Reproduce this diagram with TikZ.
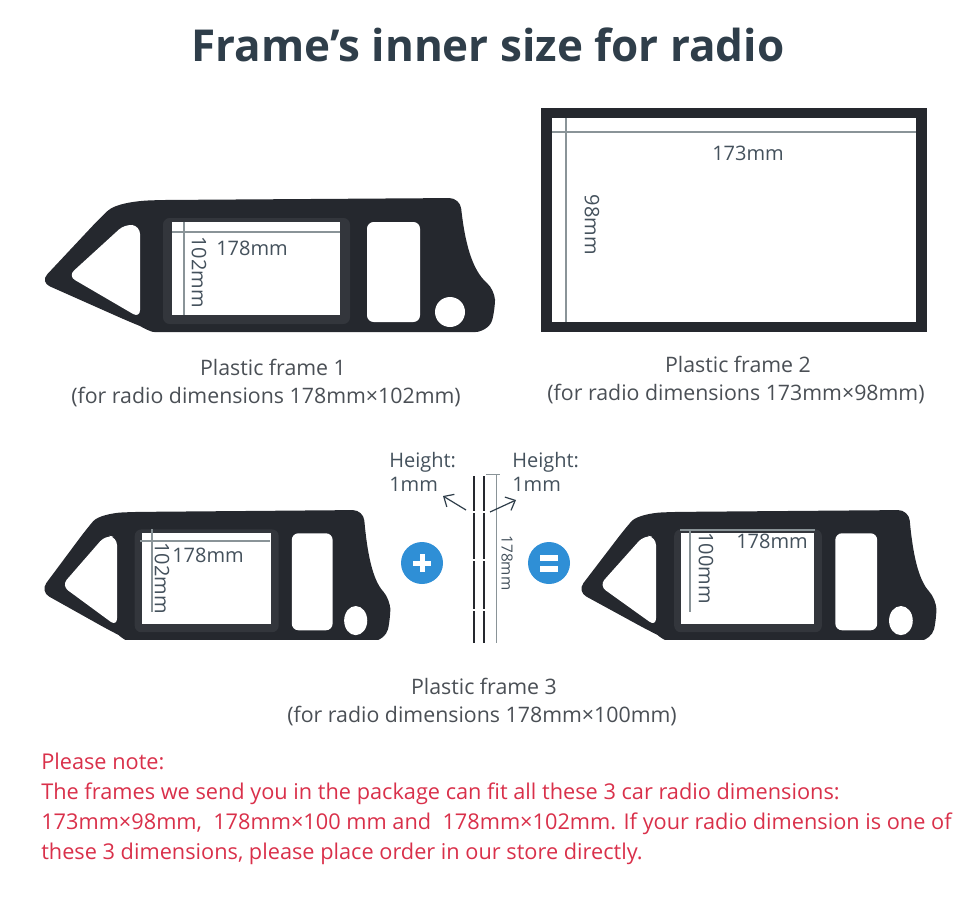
\documentclass[tikz,border=0pt]{standalone}
\usepackage{fontspec}
\setmainfont{Open Sans}
\usetikzlibrary{arrows.meta}
\definecolor{fr}{HTML}{25282E}
\definecolor{rec}{HTML}{33363C}
\definecolor{ttl}{HTML}{2F3E4A}
\definecolor{cap}{HTML}{4A4F55}
\definecolor{red1}{HTML}{D9304A}
\definecolor{blu}{HTML}{2F8FD6}
\definecolor{gl}{HTML}{8A9498}
\newcommand{\carframe}{%
 \fill[fr,rounded corners=8] (0,84) -- (60,20) .. controls (75,6) and (95,3) .. (120,2) -- (420,0) .. controls (425,45) and (432,72) .. (455,92) -- (455,112) .. controls (450,130) and (440,134) .. (425,134) -- (125,134) .. controls (110,134) and (100,128) .. (90,124) -- cycle;
 \fill[white,rounded corners=6] (28,78) -- (85,26) -- (100,28) -- (100,120) -- cycle;
 \fill[rec,rounded corners=5] (123,20) rectangle (310,126);
 \fill[white] (132,24) rectangle (300,117);
 \fill[white,rounded corners=5] (327,24) rectangle (380,124);
 \fill[white] (410,114) circle (15);}
\tikzset{cp/.style={text=cap,font=\fontsize{16}{18}\selectfont},
 lb/.style={text=ttl!90,font=\fontsize{15}{18}\selectfont,inner sep=0},
 gline/.style={gl,line width=0.8pt}}
\begin{document}
\begin{tikzpicture}[x=0.75pt,y=-0.75pt]
\useasboundingbox (0,0) rectangle (980,921);
\node (title) at (488,45) {\fontsize{33}{38}\selectfont\bfseries\color{ttl}Frame's inner size for radio};
% frame 1
\begin{scope}[shift={(40,198)}]\carframe\end{scope}
\draw[gline] (184,222) -- (184,315); \draw[gline] (172,232) -- (340,232);
\node[lb,anchor=west] (a1) at (216,248) {178mm};
\node[lb,rotate=-90] (a2) at (199,272) {102mm};
\node[cp] (c1) at (273,367) {Plastic frame 1};
\node[cp] (c1b) at (266,397) {(for radio dimensions 178mm×102mm)};
% frame 2
\fill[fr] (541,108) rectangle (927,332);
\fill[white] (552,118) rectangle (916,322);
\draw[gline] (566,118) -- (566,322); \draw[gline] (552,132) -- (916,132);
\node[lb] (b1) at (748,153) {173mm};
\node[lb,rotate=-90] (b2) at (592,225) {98mm};
\node[cp] (c2) at (738,364) {Plastic frame 2};
\node[cp] (c2b) at (736,394) {(for radio dimensions 173mm×98mm)};
% frame 3 left
\begin{scope}[shift={(40,510)},xscale=0.77,yscale=0.97]\carframe\end{scope}
\draw[gline] (152,529) -- (152,612); \draw[gline] (140,541) -- (270,541);
\node[lb,anchor=west] (d1) at (172,555) {178mm};
\node[lb,rotate=-90] (d2) at (162,578) {102mm};
% plus
\fill[blu] (422,563) circle (21);
\fill[white] (413,560.5) rectangle (431,565.5);
\fill[white] (419.5,554) rectangle (424.5,572);
% strips
\draw[fr,line width=2.2pt] (474,476) -- (474,643);
\draw[fr,line width=2.2pt] (484,476) -- (484,643);
\foreach \y in {512,560,610} {\draw[white,line width=1.5pt] (470,\y) -- (488,\y);}
\draw[gl,line width=0.6pt] (496,474) -- (496,643); \draw[gl,line width=0.6pt] (486,474) -- (500,474);
\node[lb,font=\fontsize{11.5}{13}\selectfont,rotate=-90] (s1) at (507,563) {178mm};
\node[lb,anchor=north west,align=left] (h1) at (389,452) {Height:\\1mm};
\node[lb,anchor=north west,align=left] (h2) at (512,452) {Height:\\1mm};
\coordinate (p1) at (466,510); \coordinate (p2) at (443,496);
\coordinate (q1) at (490,512); \coordinate (q2) at (516,500);
\draw[ttl,line width=0.9pt,-{Straight Barb[length=6pt,width=11pt]}] (p1) -- (p2);
\draw[ttl,line width=0.9pt,-{Straight Barb[length=6pt,width=11pt]}] (q1) -- (q2);
% equals
\fill[blu] (549,563) circle (21);
\fill[white] (540,555) rectangle (558,560.5);
\fill[white] (540,566) rectangle (558,571.5);
% frame 3 right
\begin{scope}[shift={(577,510)},xscale=0.79,yscale=0.97]\carframe\end{scope}
\draw[gline] (690,529) -- (690,612); \draw[gline] (680,530) -- (815,530);
\node[lb,anchor=west] (e1) at (736,541) {178mm};
\node[lb,rotate=-90] (e2) at (706,568) {100mm};
\node[cp] (c3) at (484,686) {Plastic frame 3};
\node[cp] (c3b) at (482,716) {(for radio dimensions 178mm×100mm)};
% note
\node[anchor=west,text=red1,font=\fontsize{16.3}{22.5}\selectfont,align=left,inner sep=0] (note) at (41,809) {Please note:\\The frames we send you in the package can fit all these 3 car radio dimensions:\\173mm×98mm,\ \ 178mm×100 mm and\ \ 178mm×102mm. If your radio dimension is one of\\these 3 dimensions, please place order in our store directly.};
\end{tikzpicture}
\end{document}
